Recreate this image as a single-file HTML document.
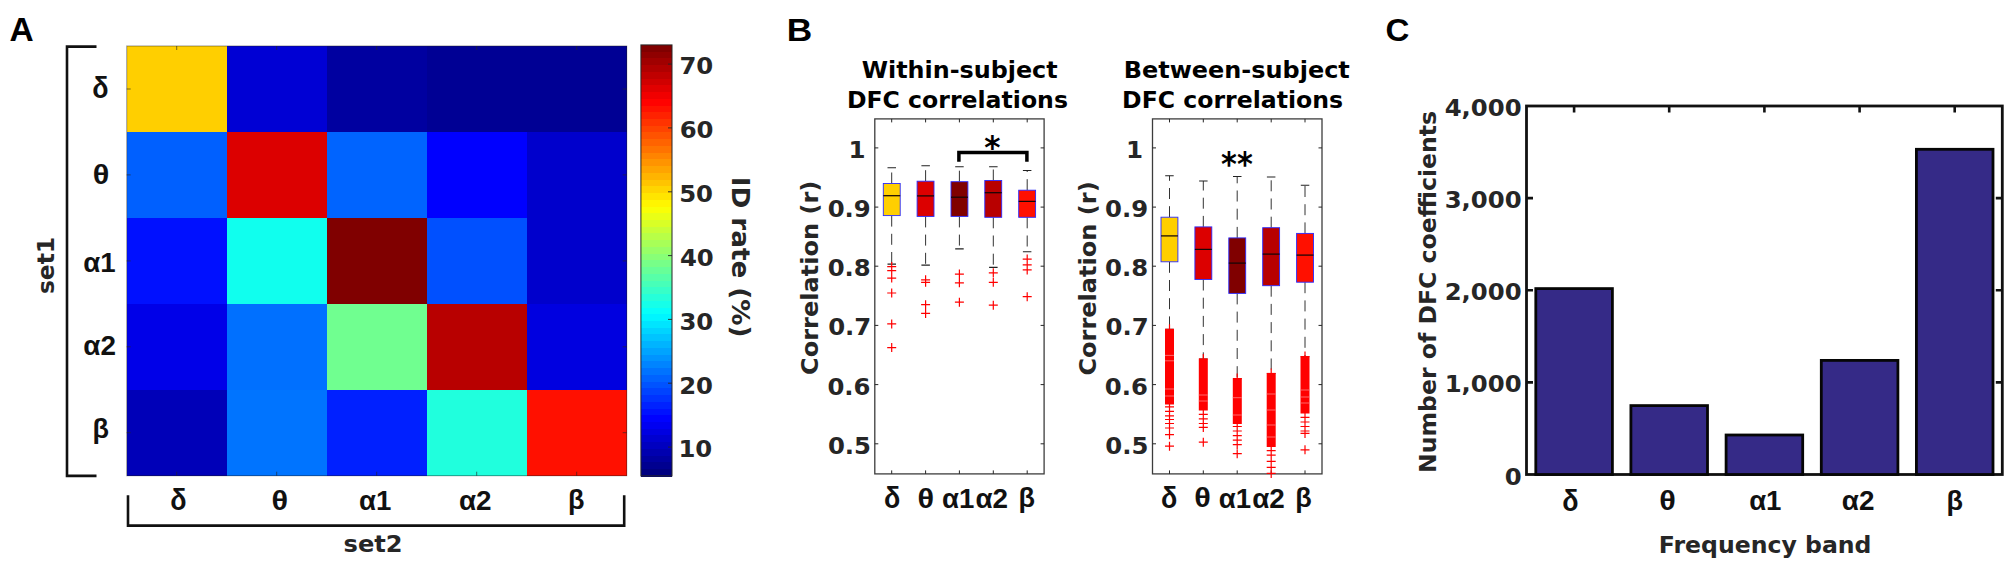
<!DOCTYPE html>
<html lang="en">
<head>
<meta charset="utf-8">
<title>Figure</title>
<style>
html,body{margin:0;padding:0;background:#fff;}
body{width:2008px;height:562px;overflow:hidden;}
svg{display:block;}
text{white-space:pre;}
</style>
</head>
<body>
<svg width="2008" height="562" viewBox="0 0 2008 562">
<rect width="2008" height="562" fill="#fff"/>
<text transform="translate(9.50,40.60) scale(1.0303,1)" fill="#000" style="font-family:'Liberation Sans','DejaVu Sans',sans-serif;font-weight:bold;font-size:32.5px">A</text>
<text transform="translate(786.83,41.10) scale(1.1014,1)" fill="#000" style="font-family:'Liberation Sans','DejaVu Sans',sans-serif;font-weight:bold;font-size:32px">B</text>
<text transform="translate(1385.38,41.40) scale(1.0337,1)" fill="#000" style="font-family:'Liberation Sans','DejaVu Sans',sans-serif;font-weight:bold;font-size:32px">C</text>
<g shape-rendering="crispEdges">
<rect x="126.70" y="46.00" width="100.50" height="86.44" fill="#ffcf00"/>
<rect x="226.70" y="46.00" width="100.50" height="86.44" fill="#0000d4"/>
<rect x="326.70" y="46.00" width="100.50" height="86.44" fill="#0000a0"/>
<rect x="426.70" y="46.00" width="100.50" height="86.44" fill="#000094"/>
<rect x="526.70" y="46.00" width="100.00" height="86.44" fill="#000094"/>
<rect x="126.70" y="131.94" width="100.50" height="86.44" fill="#0060ff"/>
<rect x="226.70" y="131.94" width="100.50" height="86.44" fill="#dc0000"/>
<rect x="326.70" y="131.94" width="100.50" height="86.44" fill="#0064ff"/>
<rect x="426.70" y="131.94" width="100.50" height="86.44" fill="#0000ff"/>
<rect x="526.70" y="131.94" width="100.00" height="86.44" fill="#0000cc"/>
<rect x="126.70" y="217.88" width="100.50" height="86.44" fill="#0010ff"/>
<rect x="226.70" y="217.88" width="100.50" height="86.44" fill="#10ffee"/>
<rect x="326.70" y="217.88" width="100.50" height="86.44" fill="#800000"/>
<rect x="426.70" y="217.88" width="100.50" height="86.44" fill="#0050ff"/>
<rect x="526.70" y="217.88" width="100.00" height="86.44" fill="#0000cc"/>
<rect x="126.70" y="303.82" width="100.50" height="86.44" fill="#0000e8"/>
<rect x="226.70" y="303.82" width="100.50" height="86.44" fill="#0070ff"/>
<rect x="326.70" y="303.82" width="100.50" height="86.44" fill="#70ff90"/>
<rect x="426.70" y="303.82" width="100.50" height="86.44" fill="#b80000"/>
<rect x="526.70" y="303.82" width="100.00" height="86.44" fill="#0000e0"/>
<rect x="126.70" y="389.76" width="100.50" height="85.94" fill="#0000b8"/>
<rect x="226.70" y="389.76" width="100.50" height="85.94" fill="#0074ff"/>
<rect x="326.70" y="389.76" width="100.50" height="85.94" fill="#0020ff"/>
<rect x="426.70" y="389.76" width="100.50" height="85.94" fill="#20ffdd"/>
<rect x="526.70" y="389.76" width="100.00" height="85.94" fill="#ff1000"/>
</g>
<path d="M176.7,46v4M176.7,475.7v-4M126.7,89.0h4M626.7,89.0h-4" stroke="#262626" stroke-width="0.9" opacity="0.7" fill="none"/>
<path d="M276.7,46v4M276.7,475.7v-4M126.7,174.9h4M626.7,174.9h-4" stroke="#262626" stroke-width="0.9" opacity="0.7" fill="none"/>
<path d="M376.7,46v4M376.7,475.7v-4M126.7,260.9h4M626.7,260.9h-4" stroke="#262626" stroke-width="0.9" opacity="0.7" fill="none"/>
<path d="M476.7,46v4M476.7,475.7v-4M126.7,346.8h4M626.7,346.8h-4" stroke="#262626" stroke-width="0.9" opacity="0.7" fill="none"/>
<path d="M576.7,46v4M576.7,475.7v-4M126.7,432.7h4M626.7,432.7h-4" stroke="#262626" stroke-width="0.9" opacity="0.7" fill="none"/>
<rect x="126.7" y="46" width="500.00000000000006" height="429.7" fill="none" stroke="#1a1a1a" stroke-opacity="0.45" stroke-width="1"/>
<path d="M96.5,46.6H67V475.9H96.5" fill="none" stroke="#111111" stroke-width="2.6"/>
<path d="M128,495.3V525.6H624.2V495.3" fill="none" stroke="#111111" stroke-width="2.6"/>
<text transform="translate(92.37,98.40) scale(1.3462,1.4589)" fill="#111111" style="font-family:'Liberation Sans','DejaVu Sans',sans-serif;font-weight:bold;font-size:20px">δ</text>
<text transform="translate(92.77,183.72) scale(1.5326,1.3986)" fill="#111111" style="font-family:'Liberation Sans','DejaVu Sans',sans-serif;font-weight:bold;font-size:20px">θ</text>
<text transform="translate(83.29,271.52) scale(1.3818,1.4214)" fill="#111111" style="font-family:'Liberation Sans','DejaVu Sans',sans-serif;font-weight:bold;font-size:20px">α1</text>
<text transform="translate(83.28,354.83) scale(1.3945,1.3662)" fill="#111111" style="font-family:'Liberation Sans','DejaVu Sans',sans-serif;font-weight:bold;font-size:20px">α2</text>
<text transform="translate(92.41,437.95) scale(1.3529,1.3936)" fill="#111111" style="font-family:'Liberation Sans','DejaVu Sans',sans-serif;font-weight:bold;font-size:20px">β</text>
<text transform="translate(170.17,510.20) scale(1.3462,1.4589)" fill="#111111" style="font-family:'Liberation Sans','DejaVu Sans',sans-serif;font-weight:bold;font-size:20px">δ</text>
<text transform="translate(271.62,509.92) scale(1.5326,1.3986)" fill="#111111" style="font-family:'Liberation Sans','DejaVu Sans',sans-serif;font-weight:bold;font-size:20px">θ</text>
<text transform="translate(358.94,510.02) scale(1.3818,1.4214)" fill="#111111" style="font-family:'Liberation Sans','DejaVu Sans',sans-serif;font-weight:bold;font-size:20px">α1</text>
<text transform="translate(458.93,509.63) scale(1.3945,1.3662)" fill="#111111" style="font-family:'Liberation Sans','DejaVu Sans',sans-serif;font-weight:bold;font-size:20px">α2</text>
<text transform="translate(567.91,509.15) scale(1.3529,1.3936)" fill="#111111" style="font-family:'Liberation Sans','DejaVu Sans',sans-serif;font-weight:bold;font-size:20px">β</text>
<text transform="translate(54.20,294.07) rotate(-90) scale(1.0020,1)" fill="#262626" style="font-family:'DejaVu Sans','Liberation Sans',sans-serif;font-weight:bold;font-size:23.3px">set1</text>
<text transform="translate(343.59,552.20) scale(1.0367,1)" fill="#262626" style="font-family:'DejaVu Sans','Liberation Sans',sans-serif;font-weight:bold;font-size:23.3px">set2</text>
<g shape-rendering="crispEdges">
<rect x="640.9" y="44.90" width="31.1" height="7.33" fill="#800000"/>
<rect x="640.9" y="51.63" width="31.1" height="7.33" fill="#900000"/>
<rect x="640.9" y="58.37" width="31.1" height="7.33" fill="#a00000"/>
<rect x="640.9" y="65.10" width="31.1" height="7.33" fill="#b00000"/>
<rect x="640.9" y="71.84" width="31.1" height="7.33" fill="#c00000"/>
<rect x="640.9" y="78.57" width="31.1" height="7.33" fill="#d00000"/>
<rect x="640.9" y="85.31" width="31.1" height="7.33" fill="#e10000"/>
<rect x="640.9" y="92.04" width="31.1" height="7.33" fill="#f10000"/>
<rect x="640.9" y="98.78" width="31.1" height="7.33" fill="#ff0200"/>
<rect x="640.9" y="105.51" width="31.1" height="7.33" fill="#ff1200"/>
<rect x="640.9" y="112.24" width="31.1" height="7.33" fill="#ff2200"/>
<rect x="640.9" y="118.98" width="31.1" height="7.33" fill="#ff3300"/>
<rect x="640.9" y="125.71" width="31.1" height="7.33" fill="#ff4300"/>
<rect x="640.9" y="132.45" width="31.1" height="7.33" fill="#ff5300"/>
<rect x="640.9" y="139.18" width="31.1" height="7.33" fill="#ff6300"/>
<rect x="640.9" y="145.92" width="31.1" height="7.33" fill="#ff7300"/>
<rect x="640.9" y="152.65" width="31.1" height="7.33" fill="#ff8400"/>
<rect x="640.9" y="159.38" width="31.1" height="7.33" fill="#ff9400"/>
<rect x="640.9" y="166.12" width="31.1" height="7.33" fill="#ffa400"/>
<rect x="640.9" y="172.85" width="31.1" height="7.33" fill="#ffb400"/>
<rect x="640.9" y="179.59" width="31.1" height="7.33" fill="#ffc400"/>
<rect x="640.9" y="186.32" width="31.1" height="7.33" fill="#ffd500"/>
<rect x="640.9" y="193.06" width="31.1" height="7.33" fill="#ffe500"/>
<rect x="640.9" y="199.79" width="31.1" height="7.33" fill="#fff500"/>
<rect x="640.9" y="206.53" width="31.1" height="7.33" fill="#f9ff06"/>
<rect x="640.9" y="213.26" width="31.1" height="7.33" fill="#e9ff16"/>
<rect x="640.9" y="219.99" width="31.1" height="7.33" fill="#d9ff26"/>
<rect x="640.9" y="226.73" width="31.1" height="7.33" fill="#c8ff37"/>
<rect x="640.9" y="233.46" width="31.1" height="7.33" fill="#b8ff47"/>
<rect x="640.9" y="240.20" width="31.1" height="7.33" fill="#a8ff57"/>
<rect x="640.9" y="246.93" width="31.1" height="7.33" fill="#98ff67"/>
<rect x="640.9" y="253.67" width="31.1" height="7.33" fill="#88ff77"/>
<rect x="640.9" y="260.40" width="31.1" height="7.33" fill="#77ff88"/>
<rect x="640.9" y="267.13" width="31.1" height="7.33" fill="#67ff98"/>
<rect x="640.9" y="273.87" width="31.1" height="7.33" fill="#57ffa8"/>
<rect x="640.9" y="280.60" width="31.1" height="7.33" fill="#47ffb8"/>
<rect x="640.9" y="287.34" width="31.1" height="7.33" fill="#37ffc8"/>
<rect x="640.9" y="294.07" width="31.1" height="7.33" fill="#26ffd9"/>
<rect x="640.9" y="300.81" width="31.1" height="7.33" fill="#16ffe9"/>
<rect x="640.9" y="307.54" width="31.1" height="7.33" fill="#06fff9"/>
<rect x="640.9" y="314.27" width="31.1" height="7.33" fill="#00f5ff"/>
<rect x="640.9" y="321.01" width="31.1" height="7.33" fill="#00e5ff"/>
<rect x="640.9" y="327.74" width="31.1" height="7.33" fill="#00d4ff"/>
<rect x="640.9" y="334.48" width="31.1" height="7.33" fill="#00c4ff"/>
<rect x="640.9" y="341.21" width="31.1" height="7.33" fill="#00b4ff"/>
<rect x="640.9" y="347.95" width="31.1" height="7.33" fill="#00a4ff"/>
<rect x="640.9" y="354.68" width="31.1" height="7.33" fill="#0094ff"/>
<rect x="640.9" y="361.42" width="31.1" height="7.33" fill="#0084ff"/>
<rect x="640.9" y="368.15" width="31.1" height="7.33" fill="#0073ff"/>
<rect x="640.9" y="374.88" width="31.1" height="7.33" fill="#0063ff"/>
<rect x="640.9" y="381.62" width="31.1" height="7.33" fill="#0053ff"/>
<rect x="640.9" y="388.35" width="31.1" height="7.33" fill="#0043ff"/>
<rect x="640.9" y="395.09" width="31.1" height="7.33" fill="#0033ff"/>
<rect x="640.9" y="401.82" width="31.1" height="7.33" fill="#0022ff"/>
<rect x="640.9" y="408.56" width="31.1" height="7.33" fill="#0012ff"/>
<rect x="640.9" y="415.29" width="31.1" height="7.33" fill="#0002ff"/>
<rect x="640.9" y="422.02" width="31.1" height="7.33" fill="#0000f1"/>
<rect x="640.9" y="428.76" width="31.1" height="7.33" fill="#0000e1"/>
<rect x="640.9" y="435.49" width="31.1" height="7.33" fill="#0000d0"/>
<rect x="640.9" y="442.23" width="31.1" height="7.33" fill="#0000c0"/>
<rect x="640.9" y="448.96" width="31.1" height="7.33" fill="#0000b0"/>
<rect x="640.9" y="455.70" width="31.1" height="7.33" fill="#0000a0"/>
<rect x="640.9" y="462.43" width="31.1" height="7.33" fill="#000090"/>
<rect x="640.9" y="469.17" width="31.1" height="7.33" fill="#000080"/>
</g>
<rect x="640.9" y="44.9" width="31.1" height="431.0" fill="none" stroke="#262626" stroke-width="1"/>
<path d="M672,64.1h-4" stroke="#262626" stroke-width="0.9"/>
<text transform="translate(679.40,74.40) scale(1.0450,1)" fill="#262626" style="font-family:'DejaVu Sans','Liberation Sans',sans-serif;font-weight:bold;font-size:23.3px">70</text>
<path d="M672,127.9h-4" stroke="#262626" stroke-width="0.9"/>
<text transform="translate(679.64,138.23) scale(1.0450,1)" fill="#262626" style="font-family:'DejaVu Sans','Liberation Sans',sans-serif;font-weight:bold;font-size:23.3px">60</text>
<path d="M672,191.8h-4" stroke="#262626" stroke-width="0.9"/>
<text transform="translate(679.15,202.06) scale(1.0450,1)" fill="#262626" style="font-family:'DejaVu Sans','Liberation Sans',sans-serif;font-weight:bold;font-size:23.3px">50</text>
<path d="M672,255.6h-4" stroke="#262626" stroke-width="0.9"/>
<text transform="translate(679.88,265.89) scale(1.0450,1)" fill="#262626" style="font-family:'DejaVu Sans','Liberation Sans',sans-serif;font-weight:bold;font-size:23.3px">40</text>
<path d="M672,319.4h-4" stroke="#262626" stroke-width="0.9"/>
<text transform="translate(679.40,329.72) scale(1.0450,1)" fill="#262626" style="font-family:'DejaVu Sans','Liberation Sans',sans-serif;font-weight:bold;font-size:23.3px">30</text>
<path d="M672,383.2h-4" stroke="#262626" stroke-width="0.9"/>
<text transform="translate(679.15,393.55) scale(1.0450,1)" fill="#262626" style="font-family:'DejaVu Sans','Liberation Sans',sans-serif;font-weight:bold;font-size:23.3px">20</text>
<path d="M672,447.1h-4" stroke="#262626" stroke-width="0.9"/>
<text transform="translate(678.42,457.38) scale(1.0450,1)" fill="#262626" style="font-family:'DejaVu Sans','Liberation Sans',sans-serif;font-weight:bold;font-size:23.3px">10</text>
<text transform="translate(732.20,176.64) rotate(90) scale(1.0934,1)" fill="#262626" style="font-family:'DejaVu Sans','Liberation Sans',sans-serif;font-weight:bold;font-size:24.0px">ID rate (%)</text>
<rect x="874.8" y="118.9" width="169.3" height="355.0" fill="#fff" stroke="#3c3c3c" stroke-width="1.3"/>
<text transform="translate(848.49,157.90) scale(1.0500,1)" fill="#262626" style="font-family:'DejaVu Sans','Liberation Sans',sans-serif;font-weight:bold;font-size:23.3px">1</text>
<text transform="translate(827.66,217.07) scale(1.0450,1)" fill="#262626" style="font-family:'DejaVu Sans','Liberation Sans',sans-serif;font-weight:bold;font-size:23.3px">0.9</text>
<text transform="translate(827.66,276.24) scale(1.0450,1)" fill="#262626" style="font-family:'DejaVu Sans','Liberation Sans',sans-serif;font-weight:bold;font-size:23.3px">0.8</text>
<text transform="translate(828.15,335.41) scale(1.0450,1)" fill="#262626" style="font-family:'DejaVu Sans','Liberation Sans',sans-serif;font-weight:bold;font-size:23.3px">0.7</text>
<text transform="translate(827.42,394.58) scale(1.0450,1)" fill="#262626" style="font-family:'DejaVu Sans','Liberation Sans',sans-serif;font-weight:bold;font-size:23.3px">0.6</text>
<text transform="translate(827.91,453.75) scale(1.0450,1)" fill="#262626" style="font-family:'DejaVu Sans','Liberation Sans',sans-serif;font-weight:bold;font-size:23.3px">0.5</text>
<path d="M891.7,118.9v3.5M891.7,473.9v-3.5M925.6,118.9v3.5M925.6,473.9v-3.5M959.4,118.9v3.5M959.4,473.9v-3.5M993.3,118.9v3.5M993.3,473.9v-3.5M1027.2,118.9v3.5M1027.2,473.9v-3.5M874.8,147.9h3.5M1044.1,147.9h-3.5M874.8,207.1h3.5M1044.1,207.1h-3.5M874.8,266.2h3.5M1044.1,266.2h-3.5M874.8,325.4h3.5M1044.1,325.4h-3.5M874.8,384.6h3.5M1044.1,384.6h-3.5M874.8,443.8h3.5M1044.1,443.8h-3.5" stroke="#262626" stroke-width="1" fill="none"/>
<text transform="translate(817.60,375.00) rotate(-90) scale(1.0330,1)" fill="#262626" style="font-family:'DejaVu Sans','Liberation Sans',sans-serif;font-weight:bold;font-size:23.3px">Correlation (r)</text>
<path d="M891.7,183.5V167.8" stroke="#333" stroke-width="1" stroke-dasharray="11,7.2" fill="none"/>
<path d="M891.7,215.6V264.1" stroke="#333" stroke-width="1" stroke-dasharray="11,7.2" fill="none"/>
<path d="M887.5,167.8h8.5M887.5,264.1h8.5" stroke="#222" stroke-width="1.1" fill="none"/>
<rect x="883.3" y="183.5" width="16.9" height="32.1" fill="#ffcf00" stroke="#2a2aff" stroke-width="0.9"/>
<path d="M883.3,195.7h16.9" stroke="#140606" stroke-width="1.25"/>
<path d="M887.2,266.6h9M891.7,262.1v9M887.2,270.6h9M891.7,266.1v9M887.2,278.1h9M891.7,273.6v9M887.2,293.0h9M891.7,288.5v9M887.2,323.9h9M891.7,319.4v9M887.2,347.6h9M891.7,343.1v9" stroke="#ff0000" stroke-width="1.2" fill="none"/>
<path d="M925.6,181.2V165.8" stroke="#333" stroke-width="1" stroke-dasharray="11,7.2" fill="none"/>
<path d="M925.6,216.4V265.1" stroke="#333" stroke-width="1" stroke-dasharray="11,7.2" fill="none"/>
<path d="M921.4,165.8h8.5M921.4,265.1h8.5" stroke="#222" stroke-width="1.1" fill="none"/>
<rect x="917.1" y="181.2" width="16.9" height="35.2" fill="#dc0000" stroke="#2a2aff" stroke-width="0.9"/>
<path d="M917.1,195.9h16.9" stroke="#140606" stroke-width="1.25"/>
<path d="M921.1,279.8h9M925.6,275.3v9M921.1,282.3h9M925.6,277.8v9M921.1,304.7h9M925.6,300.2v9M921.1,313.4h9M925.6,308.9v9" stroke="#ff0000" stroke-width="1.2" fill="none"/>
<path d="M959.4,181.7V166.8" stroke="#333" stroke-width="1" stroke-dasharray="11,7.2" fill="none"/>
<path d="M959.4,216.4V248.9" stroke="#333" stroke-width="1" stroke-dasharray="11,7.2" fill="none"/>
<path d="M955.2,166.8h8.5M955.2,248.9h8.5" stroke="#222" stroke-width="1.1" fill="none"/>
<rect x="951.0" y="181.7" width="16.9" height="34.7" fill="#800000" stroke="#2a2aff" stroke-width="0.9"/>
<path d="M951.0,197.2h16.9" stroke="#140606" stroke-width="1.25"/>
<path d="M954.9,274.1h9M959.4,269.6v9M954.9,282.8h9M959.4,278.3v9M954.9,302.2h9M959.4,297.7v9" stroke="#ff0000" stroke-width="1.2" fill="none"/>
<path d="M993.3,180.5V166.8" stroke="#333" stroke-width="1" stroke-dasharray="11,7.2" fill="none"/>
<path d="M993.3,217.3V267.4" stroke="#333" stroke-width="1" stroke-dasharray="11,7.2" fill="none"/>
<path d="M989.1,166.8h8.5M989.1,267.4h8.5" stroke="#222" stroke-width="1.1" fill="none"/>
<rect x="984.8" y="180.5" width="16.9" height="36.8" fill="#b80000" stroke="#2a2aff" stroke-width="0.9"/>
<path d="M984.8,192.7h16.9" stroke="#140606" stroke-width="1.25"/>
<path d="M988.8,272.8h9M993.3,268.3v9M988.8,282.3h9M993.3,277.8v9M988.8,305.2h9M993.3,300.7v9" stroke="#ff0000" stroke-width="1.2" fill="none"/>
<path d="M1027.2,190.2V170.5" stroke="#333" stroke-width="1" stroke-dasharray="11,7.2" fill="none"/>
<path d="M1027.2,217.3V251.7" stroke="#333" stroke-width="1" stroke-dasharray="11,7.2" fill="none"/>
<path d="M1022.9,170.5h8.5M1022.9,251.7h8.5" stroke="#222" stroke-width="1.1" fill="none"/>
<rect x="1018.7" y="190.2" width="16.9" height="27.1" fill="#ff1000" stroke="#2a2aff" stroke-width="0.9"/>
<path d="M1018.7,201.4h16.9" stroke="#140606" stroke-width="1.25"/>
<path d="M1022.7,259.1h9M1027.2,254.6v9M1022.7,264.9h9M1027.2,260.4v9M1022.7,269.9h9M1027.2,265.4v9M1022.7,296.7h9M1027.2,292.2v9" stroke="#ff0000" stroke-width="1.2" fill="none"/>
<text transform="translate(861.68,77.50) scale(1.0238,1)" fill="#000" style="font-family:'DejaVu Sans','Liberation Sans',sans-serif;font-weight:bold;font-size:23.3px">Within-subject</text>
<text transform="translate(846.88,108.30) scale(1.0127,1)" fill="#000" style="font-family:'DejaVu Sans','Liberation Sans',sans-serif;font-weight:bold;font-size:23.3px">DFC correlations</text>
<text transform="translate(884.02,508.30) scale(1.3462,1.4589)" fill="#111111" style="font-family:'Liberation Sans','DejaVu Sans',sans-serif;font-weight:bold;font-size:20px">δ</text>
<text transform="translate(917.52,508.02) scale(1.5326,1.3986)" fill="#111111" style="font-family:'Liberation Sans','DejaVu Sans',sans-serif;font-weight:bold;font-size:20px">θ</text>
<text transform="translate(941.99,508.12) scale(1.3818,1.4214)" fill="#111111" style="font-family:'Liberation Sans','DejaVu Sans',sans-serif;font-weight:bold;font-size:20px">α1</text>
<text transform="translate(975.38,508.13) scale(1.3945,1.3662)" fill="#111111" style="font-family:'Liberation Sans','DejaVu Sans',sans-serif;font-weight:bold;font-size:20px">α2</text>
<text transform="translate(1018.51,507.35) scale(1.3529,1.3936)" fill="#111111" style="font-family:'Liberation Sans','DejaVu Sans',sans-serif;font-weight:bold;font-size:20px">β</text>
<path d="M958.9,161.7V152.5H1026.9V161.7" fill="none" stroke="#000" stroke-width="3.5"/>
<text transform="translate(984.28,157.87) scale(1.5521,1.6196)" fill="#000" style="font-family:'DejaVu Sans','Liberation Sans',sans-serif;font-weight:bold;font-size:20px">*</text>
<rect x="1152.5" y="118.9" width="169.5" height="355.0" fill="#fff" stroke="#3c3c3c" stroke-width="1.3"/>
<text transform="translate(1125.89,157.90) scale(1.0500,1)" fill="#262626" style="font-family:'DejaVu Sans','Liberation Sans',sans-serif;font-weight:bold;font-size:23.3px">1</text>
<text transform="translate(1104.96,217.07) scale(1.0450,1)" fill="#262626" style="font-family:'DejaVu Sans','Liberation Sans',sans-serif;font-weight:bold;font-size:23.3px">0.9</text>
<text transform="translate(1104.96,276.24) scale(1.0450,1)" fill="#262626" style="font-family:'DejaVu Sans','Liberation Sans',sans-serif;font-weight:bold;font-size:23.3px">0.8</text>
<text transform="translate(1105.45,335.41) scale(1.0450,1)" fill="#262626" style="font-family:'DejaVu Sans','Liberation Sans',sans-serif;font-weight:bold;font-size:23.3px">0.7</text>
<text transform="translate(1104.72,394.58) scale(1.0450,1)" fill="#262626" style="font-family:'DejaVu Sans','Liberation Sans',sans-serif;font-weight:bold;font-size:23.3px">0.6</text>
<text transform="translate(1105.21,453.75) scale(1.0450,1)" fill="#262626" style="font-family:'DejaVu Sans','Liberation Sans',sans-serif;font-weight:bold;font-size:23.3px">0.5</text>
<path d="M1169.5,118.9v3.5M1169.5,473.9v-3.5M1203.3,118.9v3.5M1203.3,473.9v-3.5M1237.2,118.9v3.5M1237.2,473.9v-3.5M1271.2,118.9v3.5M1271.2,473.9v-3.5M1305.0,118.9v3.5M1305.0,473.9v-3.5M1152.5,147.9h3.5M1322.0,147.9h-3.5M1152.5,207.1h3.5M1322.0,207.1h-3.5M1152.5,266.2h3.5M1322.0,266.2h-3.5M1152.5,325.4h3.5M1322.0,325.4h-3.5M1152.5,384.6h3.5M1322.0,384.6h-3.5M1152.5,443.8h3.5M1322.0,443.8h-3.5" stroke="#262626" stroke-width="1" fill="none"/>
<text transform="translate(1096.00,375.60) rotate(-90) scale(1.0324,1)" fill="#262626" style="font-family:'DejaVu Sans','Liberation Sans',sans-serif;font-weight:bold;font-size:23.3px">Correlation (r)</text>
<path d="M1169.5,217.2V175.8" stroke="#333" stroke-width="1" stroke-dasharray="11,7.2" fill="none"/>
<path d="M1169.5,261.8V329.4" stroke="#333" stroke-width="1" stroke-dasharray="11,7.2" fill="none"/>
<path d="M1165.2,175.8h8.5M1165.2,329.4h8.5" stroke="#222" stroke-width="1.1" fill="none"/>
<rect x="1161.0" y="217.2" width="16.9" height="44.6" fill="#ffcf00" stroke="#2a2aff" stroke-width="0.9"/>
<path d="M1161.0,235.9h16.9" stroke="#140606" stroke-width="1.25"/>
<path d="M1165.0,406.8h9M1169.5,402.3v9M1165.0,411.4h9M1169.5,406.9v9M1165.0,415.9h9M1169.5,411.4v9M1165.0,419.5h9M1169.5,415.0v9M1165.0,423.5h9M1169.5,419.0v9M1165.0,428.0h9M1169.5,423.5v9M1165.0,434.7h9M1169.5,430.2v9M1165.0,446.2h9M1169.5,441.7v9" stroke="#ff0000" stroke-width="1.2" fill="none"/>
<rect x="1165.0" y="328.8" width="9" height="75.7" fill="#ff0000"/>
<path d="M1169.5,324.3v5" stroke="#ff0000" stroke-width="1.2"/>
<path d="M1165.0,355.4h9" stroke="#ff8080" stroke-width="0.8"/>
<path d="M1165.0,360.8h9" stroke="#ff8080" stroke-width="0.8"/>
<path d="M1165.0,389.0h9" stroke="#ff8080" stroke-width="0.8"/>
<path d="M1165.0,396.0h9" stroke="#ff8080" stroke-width="0.8"/>
<path d="M1203.3,226.9V181.0" stroke="#333" stroke-width="1" stroke-dasharray="11,7.2" fill="none"/>
<path d="M1203.3,279.5V359.0" stroke="#333" stroke-width="1" stroke-dasharray="11,7.2" fill="none"/>
<path d="M1199.1,181.0h8.5M1199.1,359.0h8.5" stroke="#222" stroke-width="1.1" fill="none"/>
<rect x="1194.9" y="226.9" width="16.9" height="52.6" fill="#dc0000" stroke="#2a2aff" stroke-width="0.9"/>
<path d="M1194.9,249.4h16.9" stroke="#140606" stroke-width="1.25"/>
<path d="M1198.8,414.4h9M1203.3,409.9v9M1198.8,418.9h9M1203.3,414.4v9M1198.8,423.5h9M1203.3,419.0v9M1198.8,427.4h9M1203.3,422.9v9M1198.8,442.2h9M1203.3,437.7v9" stroke="#ff0000" stroke-width="1.2" fill="none"/>
<rect x="1198.8" y="358.4" width="9" height="52.1" fill="#ff0000"/>
<path d="M1203.3,353.9v5" stroke="#ff0000" stroke-width="1.2"/>
<path d="M1198.8,395.0h9" stroke="#ff8080" stroke-width="0.8"/>
<path d="M1198.8,401.0h9" stroke="#ff8080" stroke-width="0.8"/>
<path d="M1237.2,237.9V176.5" stroke="#333" stroke-width="1" stroke-dasharray="11,7.2" fill="none"/>
<path d="M1237.2,293.4V378.6" stroke="#333" stroke-width="1" stroke-dasharray="11,7.2" fill="none"/>
<path d="M1233.0,176.5h8.5M1233.0,378.6h8.5" stroke="#222" stroke-width="1.1" fill="none"/>
<rect x="1228.8" y="237.9" width="16.9" height="55.5" fill="#800000" stroke="#2a2aff" stroke-width="0.9"/>
<path d="M1228.8,263.1h16.9" stroke="#140606" stroke-width="1.25"/>
<path d="M1232.8,426.5h9M1237.2,422.0v9M1232.8,431.0h9M1237.2,426.5v9M1232.8,435.6h9M1237.2,431.1v9M1232.8,440.1h9M1237.2,435.6v9M1232.8,444.6h9M1237.2,440.1v9M1232.8,453.7h9M1237.2,449.2v9" stroke="#ff0000" stroke-width="1.2" fill="none"/>
<rect x="1232.8" y="378.0" width="9" height="46.0" fill="#ff0000"/>
<path d="M1237.2,373.5v5" stroke="#ff0000" stroke-width="1.2"/>
<path d="M1232.8,397.7h9" stroke="#ff8080" stroke-width="0.8"/>
<path d="M1232.8,415.0h9" stroke="#ff8080" stroke-width="0.8"/>
<path d="M1271.2,227.7V177.0" stroke="#333" stroke-width="1" stroke-dasharray="11,7.2" fill="none"/>
<path d="M1271.2,285.7V373.5" stroke="#333" stroke-width="1" stroke-dasharray="11,7.2" fill="none"/>
<path d="M1266.9,177.0h8.5M1266.9,373.5h8.5" stroke="#222" stroke-width="1.1" fill="none"/>
<rect x="1262.7" y="227.7" width="16.9" height="58.0" fill="#b80000" stroke="#2a2aff" stroke-width="0.9"/>
<path d="M1262.7,254.1h16.9" stroke="#140606" stroke-width="1.25"/>
<path d="M1266.7,450.7h9M1271.2,446.2v9M1266.7,455.2h9M1271.2,450.7v9M1266.7,461.3h9M1271.2,456.8v9M1266.7,467.3h9M1271.2,462.8v9M1266.7,473.4h9M1271.2,468.9v9" stroke="#ff0000" stroke-width="1.2" fill="none"/>
<rect x="1266.7" y="372.9" width="9" height="74.1" fill="#ff0000"/>
<path d="M1271.2,368.4v5" stroke="#ff0000" stroke-width="1.2"/>
<path d="M1266.7,394.0h9" stroke="#ff8080" stroke-width="0.8"/>
<path d="M1266.7,410.0h9" stroke="#ff8080" stroke-width="0.8"/>
<path d="M1266.7,425.0h9" stroke="#ff8080" stroke-width="0.8"/>
<path d="M1266.7,437.0h9" stroke="#ff8080" stroke-width="0.8"/>
<path d="M1305.0,233.4V185.2" stroke="#333" stroke-width="1" stroke-dasharray="11,7.2" fill="none"/>
<path d="M1305.0,282.2V356.6" stroke="#333" stroke-width="1" stroke-dasharray="11,7.2" fill="none"/>
<path d="M1300.8,185.2h8.5M1300.8,356.6h8.5" stroke="#222" stroke-width="1.1" fill="none"/>
<rect x="1296.6" y="233.4" width="16.9" height="48.8" fill="#ff1000" stroke="#2a2aff" stroke-width="0.9"/>
<path d="M1296.6,255.1h16.9" stroke="#140606" stroke-width="1.25"/>
<path d="M1300.5,417.4h9M1305.0,412.9v9M1300.5,422.0h9M1305.0,417.5v9M1300.5,426.5h9M1305.0,422.0v9M1300.5,431.0h9M1305.0,426.5v9M1300.5,433.4h9M1305.0,428.9v9M1300.5,449.8h9M1305.0,445.3v9" stroke="#ff0000" stroke-width="1.2" fill="none"/>
<rect x="1300.5" y="356.0" width="9" height="57.5" fill="#ff0000"/>
<path d="M1305.0,351.5v5" stroke="#ff0000" stroke-width="1.2"/>
<path d="M1300.5,390.0h9" stroke="#ff8080" stroke-width="0.8"/>
<path d="M1300.5,397.0h9" stroke="#ff8080" stroke-width="0.8"/>
<path d="M1300.5,403.0h9" stroke="#ff8080" stroke-width="0.8"/>
<text transform="translate(1123.85,77.50) scale(1.0277,1)" fill="#000" style="font-family:'DejaVu Sans','Liberation Sans',sans-serif;font-weight:bold;font-size:23.3px">Between-subject</text>
<text transform="translate(1122.08,108.10) scale(1.0127,1)" fill="#000" style="font-family:'DejaVu Sans','Liberation Sans',sans-serif;font-weight:bold;font-size:23.3px">DFC correlations</text>
<text transform="translate(1160.97,507.70) scale(1.3462,1.4589)" fill="#111111" style="font-family:'Liberation Sans','DejaVu Sans',sans-serif;font-weight:bold;font-size:20px">δ</text>
<text transform="translate(1194.37,507.42) scale(1.5326,1.3986)" fill="#111111" style="font-family:'Liberation Sans','DejaVu Sans',sans-serif;font-weight:bold;font-size:20px">θ</text>
<text transform="translate(1218.74,507.52) scale(1.3818,1.4214)" fill="#111111" style="font-family:'Liberation Sans','DejaVu Sans',sans-serif;font-weight:bold;font-size:20px">α1</text>
<text transform="translate(1252.23,507.53) scale(1.3945,1.3662)" fill="#111111" style="font-family:'Liberation Sans','DejaVu Sans',sans-serif;font-weight:bold;font-size:20px">α2</text>
<text transform="translate(1295.16,506.75) scale(1.3529,1.3936)" fill="#111111" style="font-family:'Liberation Sans','DejaVu Sans',sans-serif;font-weight:bold;font-size:20px">β</text>
<text transform="translate(1221.09,176.31) scale(1.5150,1.6630)" fill="#000" style="font-family:'DejaVu Sans','Liberation Sans',sans-serif;font-weight:bold;font-size:20px">**</text>
<rect x="1526.5" y="106" width="475.8" height="368.5" fill="#fff" stroke="#111111" stroke-width="2.8"/>
<text transform="translate(1504.77,484.50) scale(1.0450,1)" fill="#262626" style="font-family:'DejaVu Sans','Liberation Sans',sans-serif;font-weight:bold;font-size:23.3px">0</text>
<text transform="translate(1444.63,392.38) scale(1.0450,1)" fill="#262626" style="font-family:'DejaVu Sans','Liberation Sans',sans-serif;font-weight:bold;font-size:23.3px">1,000</text>
<text transform="translate(1444.63,300.25) scale(1.0450,1)" fill="#262626" style="font-family:'DejaVu Sans','Liberation Sans',sans-serif;font-weight:bold;font-size:23.3px">2,000</text>
<text transform="translate(1444.63,208.12) scale(1.0450,1)" fill="#262626" style="font-family:'DejaVu Sans','Liberation Sans',sans-serif;font-weight:bold;font-size:23.3px">3,000</text>
<text transform="translate(1444.63,116.00) scale(1.0450,1)" fill="#262626" style="font-family:'DejaVu Sans','Liberation Sans',sans-serif;font-weight:bold;font-size:23.3px">4,000</text>
<path d="M1574.1,106v6.5M1669.2,106v6.5M1764.4,106v6.5M1859.6,106v6.5M1954.7,106v6.5M1526.5,382.4h6.5M2002.3,382.4h-6.5M1526.5,290.2h6.5M2002.3,290.2h-6.5M1526.5,198.1h6.5M2002.3,198.1h-6.5" stroke="#111111" stroke-width="2.6" fill="none"/>
<rect x="1535.8" y="288.6" width="76.6" height="185.9" fill="#352a87" stroke="#060606" stroke-width="2.8"/>
<rect x="1630.9" y="405.6" width="76.6" height="68.9" fill="#352a87" stroke="#060606" stroke-width="2.8"/>
<rect x="1726.1" y="435.0" width="76.6" height="39.5" fill="#352a87" stroke="#060606" stroke-width="2.8"/>
<rect x="1821.3" y="360.4" width="76.6" height="114.1" fill="#352a87" stroke="#060606" stroke-width="2.8"/>
<rect x="1916.4" y="149.3" width="76.6" height="325.2" fill="#352a87" stroke="#060606" stroke-width="2.8"/>
<text transform="translate(1562.32,510.50) scale(1.3462,1.4589)" fill="#111111" style="font-family:'Liberation Sans','DejaVu Sans',sans-serif;font-weight:bold;font-size:20px">δ</text>
<text transform="translate(1659.27,510.22) scale(1.5326,1.3986)" fill="#111111" style="font-family:'Liberation Sans','DejaVu Sans',sans-serif;font-weight:bold;font-size:20px">θ</text>
<text transform="translate(1749.14,510.32) scale(1.3818,1.4214)" fill="#111111" style="font-family:'Liberation Sans','DejaVu Sans',sans-serif;font-weight:bold;font-size:20px">α1</text>
<text transform="translate(1841.83,510.33) scale(1.3945,1.3662)" fill="#111111" style="font-family:'Liberation Sans','DejaVu Sans',sans-serif;font-weight:bold;font-size:20px">α2</text>
<text transform="translate(1946.51,509.55) scale(1.3529,1.3936)" fill="#111111" style="font-family:'Liberation Sans','DejaVu Sans',sans-serif;font-weight:bold;font-size:20px">β</text>
<text transform="translate(1658.78,552.60) scale(1.0123,1)" fill="#262626" style="font-family:'DejaVu Sans','Liberation Sans',sans-serif;font-weight:bold;font-size:23.3px">Frequency band</text>
<text transform="translate(1435.50,472.92) rotate(-90) scale(1.0118,1)" fill="#262626" style="font-family:'DejaVu Sans','Liberation Sans',sans-serif;font-weight:bold;font-size:23.3px">Number of DFC coefficients</text>
</svg>
</body>
</html>
